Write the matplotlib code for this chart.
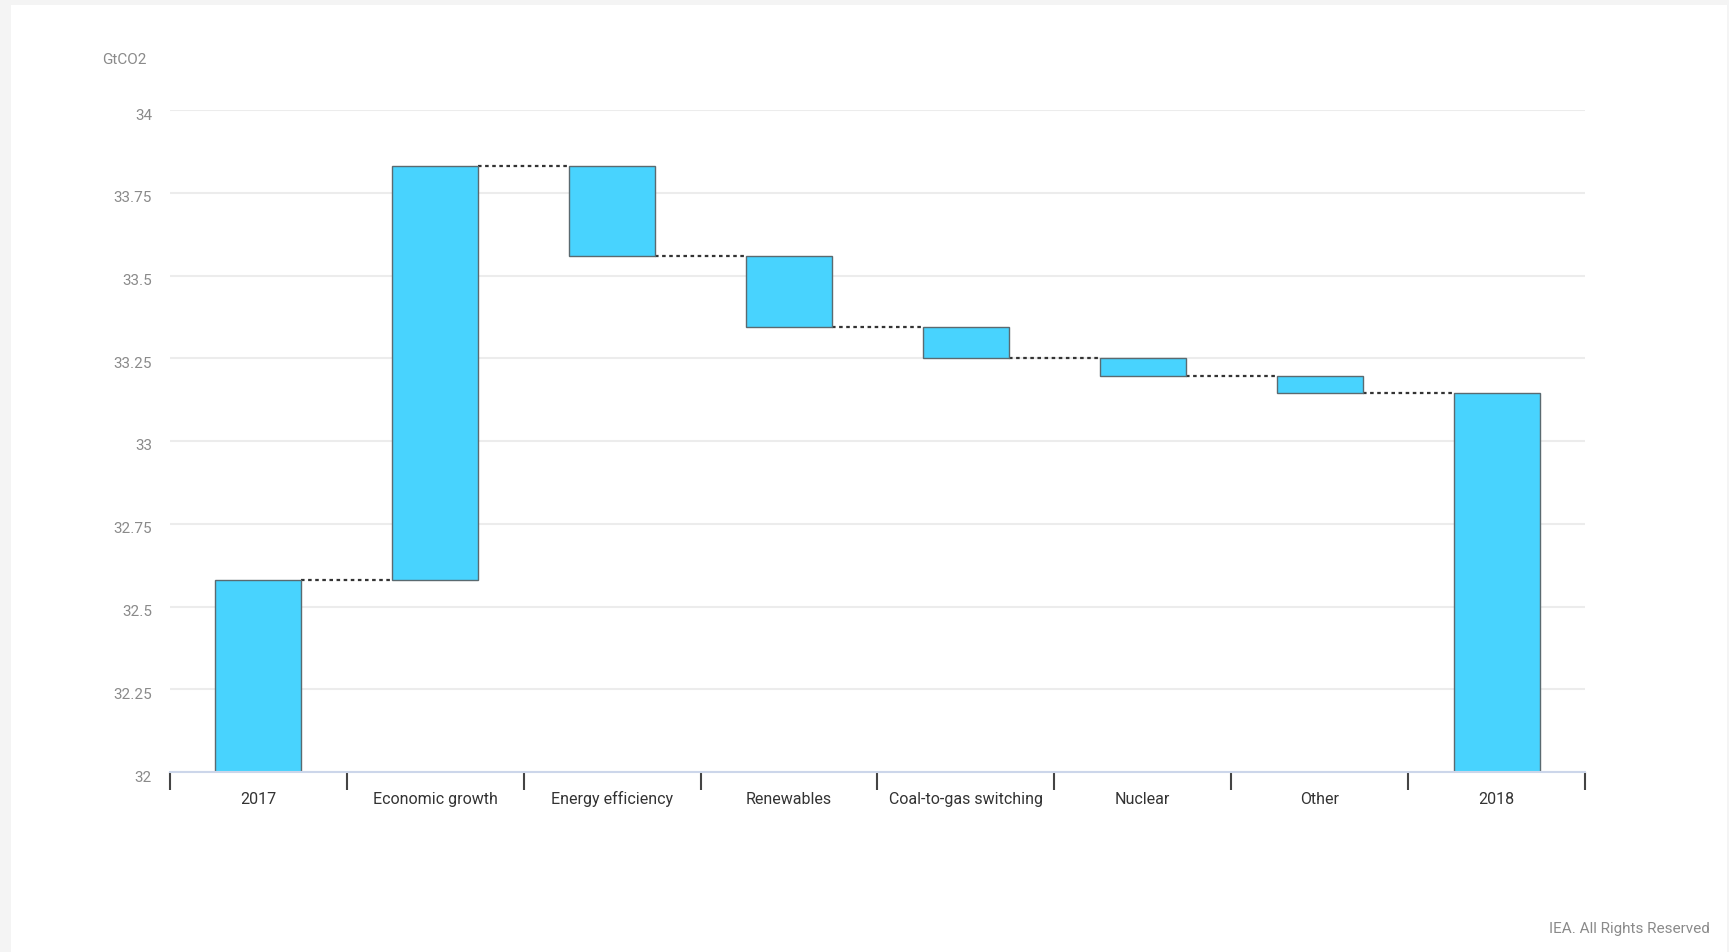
import matplotlib.pyplot as plt
from matplotlib.patches import Rectangle
from matplotlib.transforms import ScaledTranslation

# Данные (GtCO2)
categories = ['2017', 'Economic growth', 'Energy efficiency', 'Renewables',
              'Coal-to-gas switching', 'Nuclear', 'Other', '2018']
start_2017 = 32.58
changes = [1.25, -0.27, -0.215, -0.095, -0.055, -0.05]
end_2018 = 33.145
y_ticks = [32, 32.25, 32.5, 32.75, 33, 33.25, 33.5, 33.75, 34]
y_tick_labels = ['32', '32.25', '32.5', '32.75', '33', '33.25', '33.5', '33.75', '34']

plt.rcParams['font.family'] = ['Roboto', 'DejaVu Sans']

W, H = 1729, 952
fig = plt.figure(figsize=(W / 100, H / 100), dpi=100, facecolor='#f4f4f4')
# белая «карточка» под графиком
fig.patches.append(Rectangle((11 / W, 0), (1727 - 11) / W, 1 - 5 / H,
                             transform=fig.transFigure, facecolor='white',
                             edgecolor='none', zorder=-10))

ax = fig.add_axes([170 / W, (H - 772) / H, (1585 - 170) / W, (772 - 110) / H])
ax.set_facecolor('none')

# нижние и верхние уровни столбцов
bottoms = [32.0]
heights = [start_2017 - 32.0]
level = start_2017
levels = [level]
for d in changes:
    new = level + d
    bottoms.append(min(level, new))
    heights.append(abs(d))
    level = new
    levels.append(level)
bottoms.append(32.0)
heights.append(end_2018 - 32.0)

x = list(range(len(categories)))
bw = 0.486
ax.bar(x, heights, bottom=bottoms, width=bw, color='#48d3fe',
       edgecolor='#5a6a70', linewidth=1.0, zorder=3)

# пунктирные соединители
for i, lv in enumerate(levels):
    ax.plot([i + bw / 2, i + 1 - bw / 2], [lv, lv], color='#333333',
            linestyle=(0, (1.6, 1.6)), linewidth=1.6, zorder=2)

ax.set_xlim(-0.5, len(categories) - 0.5)
ax.set_ylim(32, 34)

ax.set_yticks(y_ticks)
ax.set_yticklabels(y_tick_labels)
ax.tick_params(axis='y', length=0, pad=13, labelsize=11, labelcolor='#8a8a8a')
ax.grid(axis='y', color='#ececec', linewidth=1.5, zorder=0)
shift = ScaledTranslation(0, -4 / 100, fig.dpi_scale_trans)
for lab in ax.get_yticklabels():
    lab.set_transform(lab.get_transform() + shift)

ax.set_xticks([i - 0.5 for i in range(len(categories) + 1)])
ax.set_xticklabels([])
ax.set_xticks(x, minor=True)
ax.set_xticklabels(categories, minor=True, va='baseline')
ax.tick_params(axis='x', which='major', length=13, width=1.5, color='#444444',
               direction='out')
ax.tick_params(axis='x', which='minor', length=0, pad=23, labelsize=11.5,
               labelcolor='#333333')

for s in ['top', 'right', 'left']:
    ax.spines[s].set_visible(False)
ax.spines['bottom'].set_color('#ccd6ea')
ax.spines['bottom'].set_linewidth(1.5)
ax.spines['bottom'].set_zorder(4)

fig.text(102 / W, 1 - 60 / H, 'GtCO2', fontsize=11, color='#8a8a8a',
         ha='left', va='center')
fig.text(1710 / W, 1 - 929 / H, 'IEA. All Rights Reserved', fontsize=11,
         color='#8a8a8a', ha='right', va='center')

fig.savefig('out.png', dpi=100, facecolor=fig.get_facecolor())
